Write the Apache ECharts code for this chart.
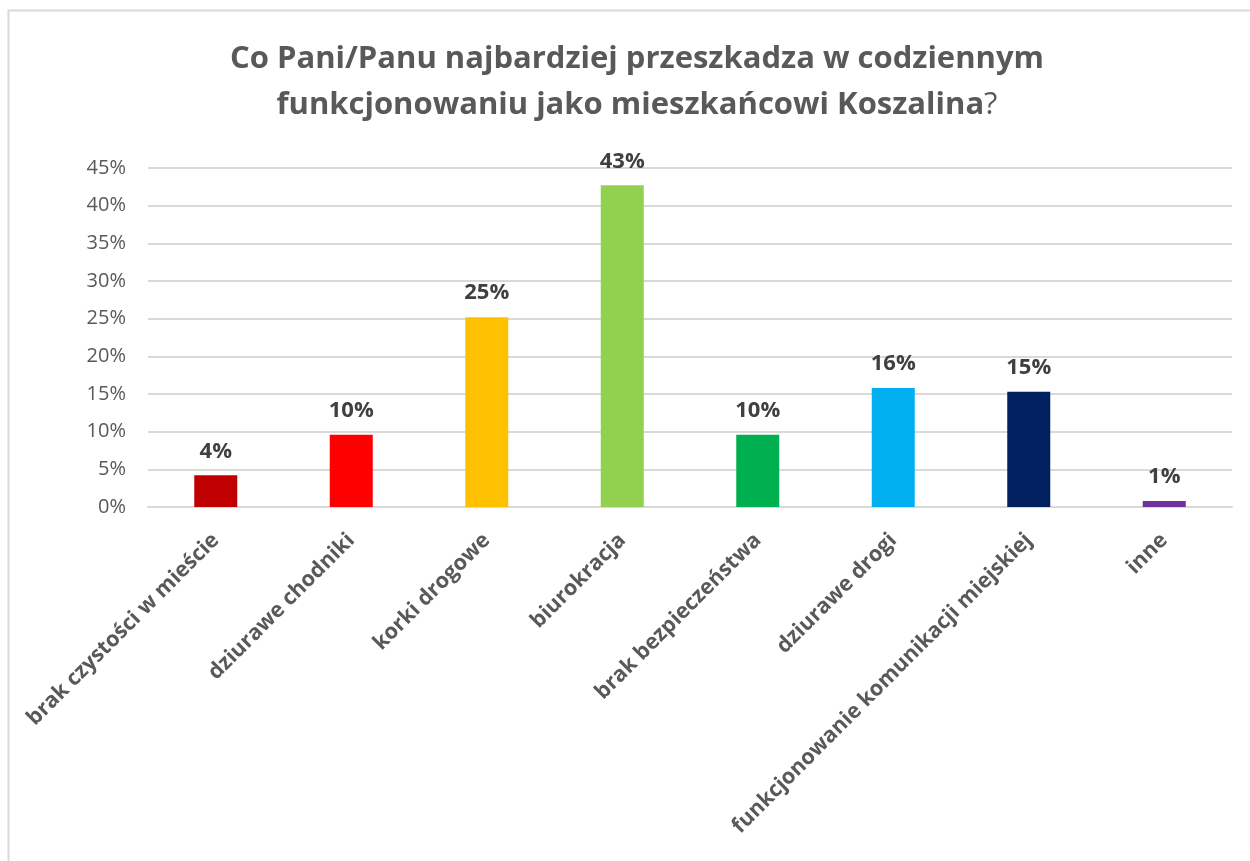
<!DOCTYPE html>
<html>
<head>
<meta charset="utf-8">
<script src="https://cdn.jsdelivr.net/npm/echarts@6/dist/echarts.min.js"></script>
<style>html,body{margin:0;padding:0;background:#fff}#c{width:1250px;height:861px}</style>
</head>
<body>
<div id="c"></div>
<script>
const categories = ['brak czystości w mieście','dziurawe chodniki','korki drogowe','biurokracja','brak bezpieczeństwa','dziurawe drogi','funkcjonowanie komunikacji miejskiej','inne'];
const values = [4.2, 9.6, 25.2, 42.7, 9.6, 15.8, 15.3, 0.8];
const labels = ['4%','10%','25%','43%','10%','16%','15%','1%'];
const colors = ['#C00000','#FF0000','#FFC000','#92D050','#00B050','#00B0F0','#002060','#7030A0'];

const chart = echarts.init(document.getElementById('c'));
chart.setOption({
  backgroundColor: '#fff',
  animation: false,
  graphic: [{
    type: 'rect', silent: true,
    shape: {x: 8.5, y: 10.5, width: 1400, height: 1000},
    style: {fill: 'none', stroke: '#D9D9D9', lineWidth: 2}
  }],
  title: {
    text: '{b|Co Pani/Panu najbardziej przeszkadza w codziennym}\n{b|funkcjonowaniu jako mieszkańcowi Koszalina}{n|?}',
    left: 632, top: 31, textAlign: 'center',
    textStyle: {
      rich: {
        b: {fontFamily: 'Open Sans', fontWeight: 'bold', fontSize: 31, color: '#595959', lineHeight: 46},
        n: {fontFamily: 'Open Sans', fontWeight: 'normal', fontSize: 31, color: '#595959', lineHeight: 46}
      }
    }
  },
  grid: {left: 148, right: 18, top: 168, bottom: 354, containLabel: false},
  xAxis: {
    type: 'category', data: categories,
    axisLine: {lineStyle: {color: '#D9D9D9', width: 2}},
    axisTick: {show: false},
    axisLabel: {rotate: 45, interval: 0, margin: 30, fontFamily: 'Open Sans', fontWeight: 'bold', fontSize: 21.5, color: '#595959'}
  },
  yAxis: {
    type: 'value', min: 0, max: 45, interval: 5,
    axisLabel: {formatter: '{value}%', fontFamily: 'Open Sans', fontSize: 20, color: '#595959', margin: 22},
    splitLine: {lineStyle: {color: '#D9D9D9', width: 2}},
    axisLine: {show: false}, axisTick: {show: false}
  },
  series: [{
    type: 'bar', barWidth: 43,
    data: values.map((v, i) => ({value: v, itemStyle: {color: colors[i]}})),
    label: {
      show: true, position: 'top', distance: 13,
      formatter: p => labels[p.dataIndex],
      fontFamily: 'Open Sans', fontWeight: 'bold', fontSize: 22, color: '#404040'
    }
  }]
});
</script>
</body>
</html>
